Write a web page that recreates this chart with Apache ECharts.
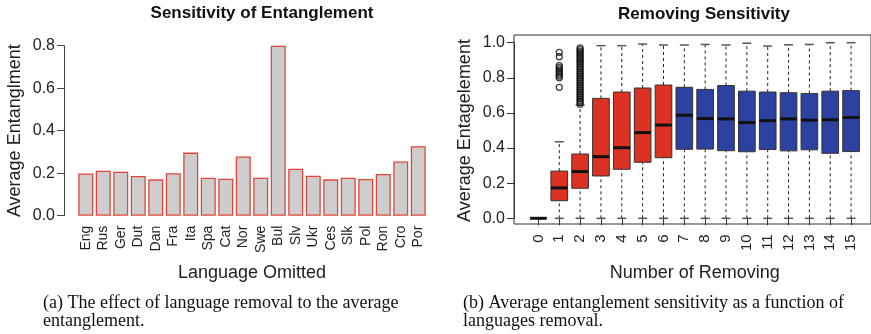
<!DOCTYPE html>
<html>
<head>
<meta charset="utf-8">
<script src="https://cdn.jsdelivr.net/npm/echarts@6/dist/echarts.min.js"></script>
<style>
  html, body { margin: 0; padding: 0; background: #fff; }
  #chart { width: 871px; height: 334px; }
</style>
</head>
<body>
<div id="chart"></div>
<script>
  // left panel: bar per omitted language
  const languages = ['Eng','Rus','Ger','Dut','Dan','Fra','Ita','Spa','Cat','Nor','Swe','Bul','Slv','Ukr','Ces','Slk','Pol','Ron','Cro','Por']
  const avgEntanglement = [0.199,0.212,0.207,0.187,0.171,0.200,0.297,0.179,0.174,0.279,0.179,0.800,0.221,0.188,0.171,0.179,0.173,0.196,0.255,0.327]
  const leftTicks = ['0.0','0.2','0.4','0.6','0.8']

  // right panel: box per number of removed languages
  const removed = ['0','1','2','3','4','5','6','7','8','9','10','11','12','13','14','15']
  const whiskerLow = [0,0,0,0,0,0,0,0,0,0,0,0,0,0,0,0]
  const q1 = [0,0.100,0.171,0.241,0.279,0.319,0.345,0.393,0.394,0.385,0.379,0.392,0.384,0.390,0.370,0.380]
  const median = [0,0.173,0.266,0.351,0.402,0.488,0.531,0.587,0.568,0.566,0.545,0.556,0.566,0.559,0.561,0.574]
  const q3 = [0,0.269,0.366,0.683,0.719,0.742,0.759,0.746,0.734,0.756,0.724,0.719,0.715,0.711,0.724,0.727]
  const whiskerHigh = [0,0.436,0.645,0.983,0.983,0.992,0.987,0.987,0.990,0.987,0.997,0.981,0.988,0.990,1.000,1.000]
  const outliers1 = [0.746,0.800,0.810,0.820,0.830,0.840,0.850,0.860,0.870,0.920,0.945]
  const outliers2 = [0.65,0.66,0.67,0.68,0.69,0.70,0.71,0.72,0.73,0.74,0.75,0.76,0.77,0.78,0.79,0.80,0.81,0.82,0.83,0.84,0.85,0.86,0.87,0.88,0.89,0.90,0.91,0.92,0.93,0.94,0.95,0.96,0.97]

  const FONT = '"Liberation Sans", Arial, sans-serif'
  const SERIF = '"Liberation Serif", "Times New Roman", serif'
  const RED = '#dc3224'
  const BLUE = '#2d41a0'

  let chart = echarts.init(document.getElementById('chart'))

  let boxData = removed.map((r, i) => [i, whiskerLow[i], q1[i], median[i], q3[i], whiskerHigh[i]])
  let outlierData = outliers1.map(v => [1, v]).concat(outliers2.map(v => [2, v]))

  function renderBox(params, api) {
    let i = api.value(0)
    let low = api.coord([i, api.value(1)])
    let lo = api.coord([i, api.value(2)])
    let med = api.coord([i, api.value(3)])
    let hi = api.coord([i, api.value(4)])
    let high = api.coord([i, api.value(5)])
    let w = api.size([1, 0])[0] * 0.8
    let x = low[0]
    let cap = w * 0.27
    let dash = { stroke: '#222', lineWidth: 1, lineDash: [3, 3] }
    let capStyle = { stroke: '#555', lineWidth: 1.5 }
    return {
      type: 'group',
      children: [
        { type: 'line', shape: { x1: x, y1: hi[1], x2: x, y2: high[1] }, style: dash },
        { type: 'line', shape: { x1: x, y1: low[1], x2: x, y2: lo[1] }, style: dash },
        { type: 'line', shape: { x1: x - cap, y1: high[1], x2: x + cap, y2: high[1] }, style: capStyle },
        { type: 'line', shape: { x1: x - cap, y1: low[1], x2: x + cap, y2: low[1] }, style: capStyle },
        {
          type: 'rect',
          shape: { x: x - w / 2, y: hi[1], width: w, height: lo[1] - hi[1] },
          style: { fill: i <= 6 ? RED : BLUE, stroke: '#333', lineWidth: 1 }
        },
        { type: 'line', shape: { x1: x - w / 2, y1: med[1], x2: x + w / 2, y2: med[1] }, style: { stroke: '#111', lineWidth: 3 } }
      ]
    }
  }

  let options = {
    animation: false,
    textStyle: { fontFamily: FONT, color: '#222' },
    grid: [
      { left: 77, right: 444, top: 45.7, bottom: 118.3 },
      { left: 528, right: 9.5, top: 42.7, bottom: 115.7 },
      { left: 514, right: -2, top: 35, bottom: 110, show: true, borderColor: '#333', borderWidth: 1, backgroundColor: 'transparent' }
    ],
    xAxis: [
      {
        gridIndex: 0,
        type: 'category',
        data: languages,
        axisLine: { show: false },
        axisTick: { show: false },
        axisLabel: { rotate: 90, fontSize: 14, margin: 10, color: '#222', interval: 0 },
        name: 'Language Omitted',
        nameLocation: 'middle',
        nameGap: 48,
        nameTextStyle: { fontSize: 18, color: '#222' }
      },
      {
        gridIndex: 1,
        type: 'category',
        data: removed,
        offset: 6,
        axisLine: { show: false },
        axisTick: { show: true, alignWithLabel: true, length: 7, lineStyle: { color: '#333' } },
        axisLabel: { rotate: 90, fontSize: 15, margin: 10, color: '#222', interval: 0 },
        name: 'Number of Removing',
        nameLocation: 'middle',
        nameGap: 40,
        nameTextStyle: { fontSize: 18, color: '#222' }
      },
      { gridIndex: 2, type: 'value', show: false }
    ],
    yAxis: [
      {
        gridIndex: 0,
        type: 'value',
        min: 0,
        max: 0.8,
        interval: 0.2,
        offset: 13,
        axisLine: { show: true, lineStyle: { color: '#444' } },
        axisTick: { show: true, length: 7, lineStyle: { color: '#444' } },
        splitLine: { show: false },
        axisLabel: { fontSize: 16, margin: 9, color: '#222', formatter: (v, idx) => leftTicks[idx] },
        name: 'Average Entanglment',
        nameLocation: 'middle',
        nameGap: 40,
        nameTextStyle: { fontSize: 18, color: '#222' }
      },
      {
        gridIndex: 1,
        type: 'value',
        min: 0,
        max: 1,
        interval: 0.2,
        offset: 14,
        axisLine: { show: true, lineStyle: { color: '#333' } },
        axisTick: { show: true, length: 7, lineStyle: { color: '#333' } },
        splitLine: { show: false },
        axisLabel: { fontSize: 16, margin: 9, color: '#222', formatter: v => v.toFixed(1) },
        name: 'Average Entagelement',
        nameLocation: 'middle',
        nameGap: 40,
        nameTextStyle: { fontSize: 18, color: '#222' }
      },
      { gridIndex: 2, type: 'value', show: false }
    ],
    series: [
      {
        type: 'bar',
        xAxisIndex: 0,
        yAxisIndex: 0,
        data: avgEntanglement,
        barWidth: 15,
        itemStyle: { color: '#cdcdcd', borderColor: '#e4443a', borderWidth: 1.3 }
      },
      {
        type: 'custom',
        xAxisIndex: 1,
        yAxisIndex: 1,
        renderItem: renderBox,
        encode: { x: 0, y: [1, 2, 3, 4, 5] },
        data: boxData,
        z: 2
      },
      {
        type: 'scatter',
        xAxisIndex: 1,
        yAxisIndex: 1,
        data: outlierData,
        symbol: 'circle',
        symbolSize: 6,
        itemStyle: { color: 'rgba(255,255,255,0)', borderColor: '#111', borderWidth: 1.3 },
        z: 3
      }
    ],
    graphic: [
      { type: 'text', x: 262, y: 13, style: { text: 'Sensitivity of Entanglement', font: 'bold 17px ' + FONT, fill: '#111', align: 'center', verticalAlign: 'middle' } },
      { type: 'text', x: 704, y: 14, style: { text: 'Removing Sensitivity', font: 'bold 17px ' + FONT, fill: '#111', align: 'center', verticalAlign: 'middle' } },
      { type: 'text', x: 43, y: 303, style: { text: '(a) The effect of language removal to the average', font: '18px ' + SERIF, fill: '#111', align: 'left', verticalAlign: 'middle' } },
      { type: 'text', x: 43, y: 321, style: { text: 'entanglement.', font: '18px ' + SERIF, fill: '#111', align: 'left', verticalAlign: 'middle' } },
      { type: 'text', x: 463, y: 303, style: { text: '(b) Average entanglement sensitivity as a function of', font: '18px ' + SERIF, fill: '#111', align: 'left', verticalAlign: 'middle' } },
      { type: 'text', x: 463, y: 321, style: { text: 'languages removal.', font: '18px ' + SERIF, fill: '#111', align: 'left', verticalAlign: 'middle' } }
    ]
  }

  chart.setOption(options, true)
</script>
</body>
</html>
